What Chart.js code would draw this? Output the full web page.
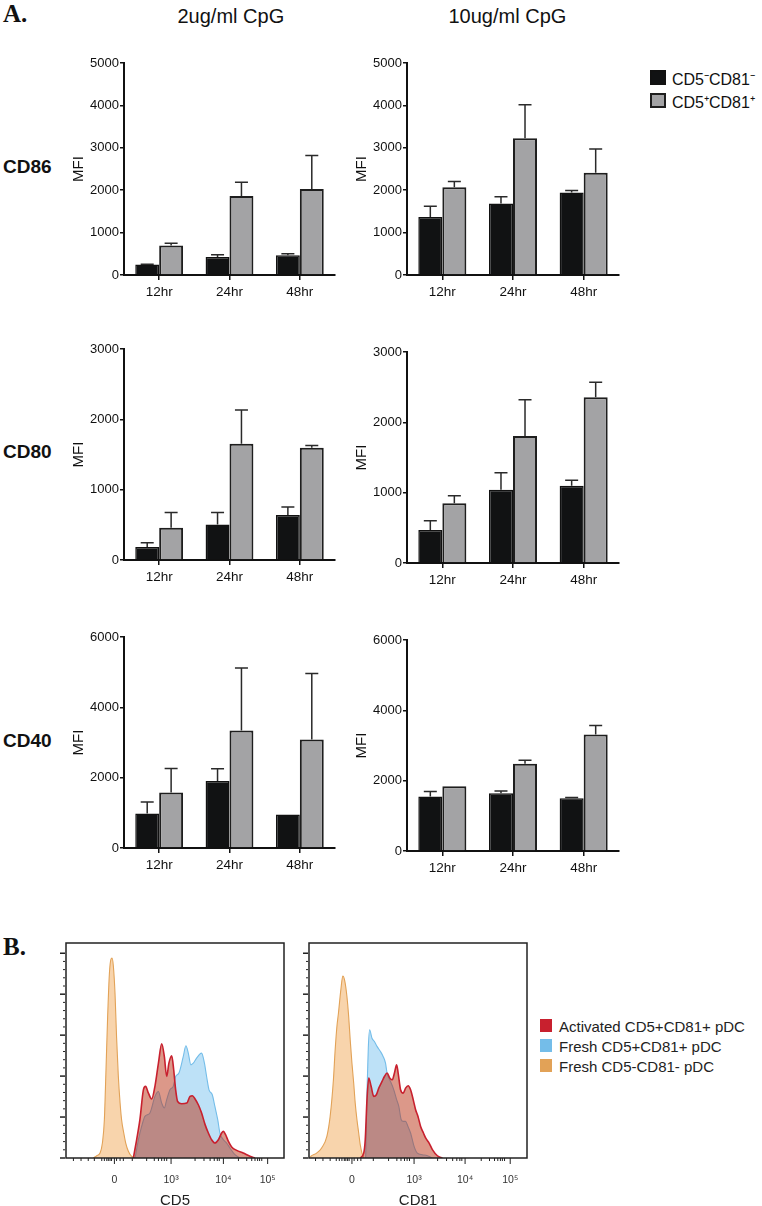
<!DOCTYPE html>
<html><head><meta charset="utf-8">
<script src="https://cdn.jsdelivr.net/npm/chart.js@4.4.1/dist/chart.umd.min.js"></script>
<style>
html,body{margin:0;padding:0;background:#fff;overflow:hidden;}
body{width:762px;height:1206px;position:relative;font-family:'Liberation Sans',Arial,sans-serif;color:#111;}
.abs{position:absolute;white-space:nowrap;line-height:1;}
.serif{font-family:'Liberation Serif','Times New Roman',serif;font-weight:bold;}
canvas{position:absolute;}
.sw{position:absolute;box-sizing:border-box;}
</style></head><body>
<div class="abs serif" style="left:3px;top:1px;font-size:25px;">A.</div>
<div class="abs serif" style="left:3px;top:934px;font-size:25px;">B.</div>
<div id="root"></div>
<script>
// ---------- DATA ----------
const categories = ['12hr', '24hr', '48hr'];
const seriesNames = ['CD5⁻CD81⁻', 'CD5⁺CD81⁺'];
const doseTitles = ['2ug/ml CpG', '10ug/ml CpG'];
const markerNames = ['CD86', 'CD80', 'CD40'];
const yMaxes = [5000, 3000, 6000];
const ySteps = [1000, 1000, 2000];

// CD86
const cd86LowNeg = [245, 425, 465];
const cd86LowNegErr = [8, 55, 39];
const cd86LowPos = [693, 1866, 2031];
const cd86LowPosErr = [55, 323, 788];
const cd86HighNeg = [1370, 1685, 1945];
const cd86HighNegErr = [252, 158, 47];
const cd86HighPos = [2071, 3228, 2409];
const cd86HighPosErr = [134, 788, 560];
// CD80
const cd80LowNeg = [185, 503, 641];
const cd80LowNegErr = [62, 171, 114];
const cd80LowPos = [460, 1652, 1595];
const cd80LowPosErr = [214, 479, 33];
const cd80HighNeg = [469, 1043, 1100];
const cd80HighNegErr = [133, 241, 75];
const cd80HighPos = [848, 1806, 2355];
const cd80HighPosErr = [109, 516, 214];
// CD40
const cd40LowNeg = [984, 1902, 956];
const cd40LowNegErr = [322, 350, 0];
const cd40LowPos = [1580, 3341, 3085];
const cd40LowPosErr = [682, 1779, 1874];
const cd40HighNeg = [1548, 1642, 1500];
const cd40HighNegErr = [142, 67, 19];
const cd40HighPos = [1842, 2478, 3313];
const cd40HighPosErr = [0, 104, 257];

// Histograms (x in display channel units 0-100, y in % of max)
const histLabels = ['Activated CD5+CD81+ pDC', 'Fresh CD5+CD81+ pDC', 'Fresh CD5-CD81- pDC'];
const histTickLabels = ['0', '10³', '10⁴', '10⁵'];
const cd5TickPos = [22.2, 48.2, 72.2, 92.5];
const cd81TickPos = [19.7, 48.2, 71.6, 92.3];
const cd5MinorPos = [3.4,6.9,10.2,13.0,16.4,17.6,18.7,19.4,20.2,20.9,23.2,24.8,26.3,30.4,37.0,40.5,42.4,43.9,45.1,46.2,59.2,63.3,66.1,68.0,69.4,70.3,79.1,82.9,85.2,86.7,87.9,88.8,89.8];
const cd81MinorPos = [3.0,6.4,9.7,12.5,13.9,15.1,16.2,16.9,17.7,18.4,20.7,22.3,23.8,29.5,36.5,40.3,42.2,43.8,45.0,46.1,59.0,63.1,65.9,67.8,69.2,70.1,79.0,82.8,85.1,86.6,87.8,88.7,89.7];
const histYMajor = [0, 20, 40, 60, 80, 100];

const cd5OrangeX = [12.5,14.1,15.6,16.7,17.6,18.3,19.1,19.9,20.6,21.1,21.7,22.5,23.2,24.0,24.8,25.5,26.5,27.4,28.6,30.1,31.7];
const cd5OrangeY = [0,1.1,2.4,7.3,18.7,41.5,69,90,97,97.6,94,80,59,40,27,18.7,12.2,7.3,3.3,0.8,0];
const cd5RedX = [30.9,32.4,33.9,35.5,36.5,37.8,39.3,40.8,42.4,43.9,45.1,46.2,47.2,48.5,49.4,50.3,51.2,53.1,55.4,56.9,58.0,59.2,60.7,62.2,63.8,65.3,66.8,68.3,69.9,71.4,72.2,73.2,74.5,76.0,78.3,81.3,84.4,86.7];
const cd5RedY = [0,8.9,18.7,33.3,35.0,31.7,28.8,35.0,46.3,55.8,49.6,39.8,46.3,49.9,43.1,33.3,27.6,26.5,26.8,30.1,30.4,28.8,26.0,22.0,16.3,12.2,8.9,7.3,8.9,12.2,13.0,11.4,8.1,5.4,3.7,2.4,0.8,0];
const cd5BlueX = [31.7,33.2,34.7,36.2,38.5,40.8,42.4,43.9,45.1,46.2,47.7,49.2,50.3,51.8,53.8,55.0,56.1,57.3,58.4,59.9,62.2,63.5,64.5,65.6,67.1,68.3,69.6,70.6,72.2,73.7,75.2,77.5,79.8];
const cd5BlueY = [0,8.9,15.4,20.3,22.0,30.1,32.5,26.8,24.4,28.5,33.3,35.0,39.8,41.5,49.6,54.8,51.2,45.5,46.3,48.8,51.2,46.3,39.8,33.3,30.9,25.2,18.7,12.2,8.9,7.3,4.9,1.6,0];

const cd81OrangeX = [0.5,1.2,3.5,5.8,8.2,9.7,11.2,12.0,12.8,13.5,14.6,15.5,16.3,17.4,18.2,18.9,19.7,20.5,21.2,22.0,22.8,23.5,24.3,25.1];
const cd81OrangeY = [0.5,1.1,2.4,4.9,10.6,20.3,38.2,52.8,64.2,70.7,82.1,88.9,87.0,78.9,69.1,57.7,46.3,36.6,26.8,18.7,12.2,6.5,2.4,0];
const cd81BlueX = [26.0,26.6,27.2,27.8,28.9,30.0,31.2,32.8,34.0,35.1,35.8,36.6,37.7,38.9,40.2,41.2,42.3,43.2,44.3,45.4,46.6,48.2,49.7,52.0,54.3,56.6];
const cd81BlueY = [0,32.5,53.7,62.6,58.5,56.9,54.5,52.0,49.6,46.3,41.5,39.0,36.6,33.3,28.5,25.2,18.7,17.9,17.9,15.4,12.2,5.7,2.4,1.6,1.1,0];
const cd81RedX = [23.5,25.1,25.8,26.6,27.4,28.5,29.7,30.9,32.0,33.5,34.6,35.8,37.1,38.2,39.2,40.2,40.9,42.0,43.2,44.3,45.5,46.6,47.8,48.9,50.0,51.2,52.5,53.5,55.1,56.6,58.9,61.2];
const cd81RedY = [0,2.4,8.9,28.5,39.0,35.0,30.1,30.9,34.1,37.4,39.8,41.5,39.0,38.2,41.5,45.5,41.5,33.3,31.7,34.1,35.3,33.3,28.5,23.6,20.3,15.4,12.2,9.8,7.3,4.1,1.1,0];

// ---------- STYLE / LAYOUT ----------
const FAMILY = "'Liberation Sans', Arial, sans-serif";
const barColors = ['#111213', '#a3a3a5'];
const barBorders = ['#111111', '#1e1e1e'];
const histLine = ['#c8202e', '#74bde9', '#e2a257'];
const histFill = ['rgba(185,50,20,0.5)', 'rgba(90,180,235,0.4)', 'rgba(240,160,70,0.45)'];

const root = document.getElementById('root');
function addDiv(html, style, cls) {
  const d = document.createElement('div');
  d.className = cls || 'abs';
  d.innerHTML = html;
  Object.assign(d.style, style);
  root.appendChild(d);
  return d;
}
function addCanvas(left, top, w, h) {
  const c = document.createElement('canvas');
  c.width = w; c.height = h;
  c.style.left = left + 'px'; c.style.top = top + 'px';
  c.style.width = w + 'px'; c.style.height = h + 'px';
  root.appendChild(c);
  return c;
}

// column titles
[[231, doseTitles[0]], [507.5, doseTitles[1]]].forEach(([cx, t]) => {
  const d = addDiv(t, {top: '6px', fontSize: '20px', left: '0px'});
  d.style.left = (cx - d.offsetWidth / 2) + 'px';
});
// row labels
[[157, markerNames[0]], [442, markerNames[1]], [731, markerNames[2]]].forEach(([t, txt]) => {
  addDiv(txt, {left: '3px', top: t + 'px', fontSize: '19px', fontWeight: 'bold'});
});
// top legend
seriesNames.forEach((name, i) => {
  const top = 70 + i * 23;
  addDiv('', {left: '650px', top: top + 'px', width: '16px', height: '15px', background: barColors[i],
    border: '2px solid ' + barBorders[i]}, 'sw');
  addDiv(name, {left: '672px', top: (top + 1.5) + 'px', fontSize: '16px'});
});
// histogram legend
histLabels.forEach((name, i) => {
  const top = 1019 + i * 20;
  addDiv('', {left: '540px', top: top + 'px', width: '12px', height: '13px', background: histLine[i]}, 'sw');
  addDiv(name, {left: '559px', top: top + 'px', fontSize: '15px', color: '#222'});
});

// ---------- PLUGINS ----------
const errorBarPlugin = {
  id: 'errorBars',
  afterDatasetsDraw(chart) {
    const ctx = chart.ctx, ys = chart.scales.y;
    chart.data.datasets.forEach((ds, i) => {
      const meta = chart.getDatasetMeta(i);
      meta.data.forEach((bar, j) => {
        const e = ds.errors[j];
        if (!e) return;
        const top = ys.getPixelForValue(ds.data[j] + e);
        ctx.save();
        ctx.strokeStyle = '#2a2a2a'; ctx.lineWidth = 1.5;
        ctx.beginPath();
        ctx.moveTo(bar.x, bar.y); ctx.lineTo(bar.x, top);
        ctx.moveTo(bar.x - 6.5, top); ctx.lineTo(bar.x + 6.5, top);
        ctx.stroke();
        ctx.restore();
      });
    });
  }
};

const histDecor = {
  id: 'histDecor',
  afterDraw(chart, args, opts) {
    const {ctx, chartArea: a, scales: {x, y}} = chart;
    ctx.save();
    ctx.strokeStyle = '#222';
    const line = (x1, y1, x2, y2) => { ctx.beginPath(); ctx.moveTo(x1, y1); ctx.lineTo(x2, y2); ctx.stroke(); };
    ctx.lineWidth = 1;
    opts.major.forEach(v => { const p = x.getPixelForValue(v); line(p, a.bottom, p, a.bottom + 6); });
    opts.minor.forEach(v => { const p = x.getPixelForValue(v); line(p, a.bottom, p, a.bottom + 3); });
    for (let v = 0; v <= 100; v += 4) {
      const p = y.getPixelForValue(v);
      ctx.lineWidth = histYMajor.includes(v) ? 1.5 : 1;
      line(a.left - (histYMajor.includes(v) ? 6 : 3), p, a.left - 1, p);
    }
    ctx.lineWidth = 1.5;
    ctx.strokeRect(a.left, a.top, a.right - a.left, a.bottom - a.top);
    ctx.restore();
  }
};

// ---------- BAR CHARTS ----------
const barPanels = [
  {left: 124, top: 63, w: 211, h: 212, row: 0, neg: cd86LowNeg, negErr: cd86LowNegErr, pos: cd86LowPos, posErr: cd86LowPosErr},
  {left: 407, top: 63, w: 212, h: 212, row: 0, neg: cd86HighNeg, negErr: cd86HighNegErr, pos: cd86HighPos, posErr: cd86HighPosErr},
  {left: 124, top: 349, w: 211, h: 211, row: 1, neg: cd80LowNeg, negErr: cd80LowNegErr, pos: cd80LowPos, posErr: cd80LowPosErr},
  {left: 407, top: 352, w: 212, h: 211, row: 1, neg: cd80HighNeg, negErr: cd80HighNegErr, pos: cd80HighPos, posErr: cd80HighPosErr},
  {left: 124, top: 637, w: 211, h: 211, row: 2, neg: cd40LowNeg, negErr: cd40LowNegErr, pos: cd40LowPos, posErr: cd40LowPosErr},
  {left: 407, top: 640, w: 212, h: 211, row: 2, neg: cd40HighNeg, negErr: cd40HighNegErr, pos: cd40HighPos, posErr: cd40HighPosErr},
];
const Y_W = 60, PAD_T = 12, PAD_R = 8, X_H = 40;
barPanels.forEach(p => {
  const c = addCanvas(p.left - Y_W, p.top - PAD_T, Y_W + p.w + PAD_R, PAD_T + p.h + X_H);
  new Chart(c, {
    type: 'bar',
    data: {
      labels: categories,
      datasets: [
        {label: seriesNames[0], data: p.neg, errors: p.negErr, backgroundColor: barColors[0], borderColor: barBorders[0], borderWidth: 1.5},
        {label: seriesNames[1], data: p.pos, errors: p.posErr, backgroundColor: barColors[1], borderColor: barBorders[1], borderWidth: 2}
      ]
    },
    options: {
      responsive: false, animation: false, devicePixelRatio: 1,
      layout: {padding: {top: PAD_T, right: PAD_R, left: 0, bottom: 0}},
      plugins: {legend: {display: false}, tooltip: {enabled: false}},
      datasets: {bar: {categoryPercentage: 0.68, barPercentage: 1}},
      scales: {
        x: {
          grid: {drawOnChartArea: false, offset: false, tickLength: 5, color: '#111', lineWidth: 1.5},
          border: {color: '#111', width: 2},
          ticks: {color: '#111', font: {size: 13.5, family: FAMILY}, padding: 4},
          afterFit(s) { s.height = X_H; }
        },
        y: {
          min: 0, max: yMaxes[p.row],
          ticks: {stepSize: ySteps[p.row], color: '#111', font: {size: 13, family: FAMILY}, padding: 1,
            callback: v => String(v)},
          grid: {drawOnChartArea: false, tickLength: 4, color: '#111', lineWidth: 1.5},
          border: {color: '#111', width: 2},
          title: {display: true, text: 'MFI', color: '#111', font: {size: 15, family: FAMILY}, padding: {top: 6, bottom: 0}},
          afterFit(s) { s.width = Y_W; }
        }
      }
    },
    plugins: [errorBarPlugin]
  });
});

// ---------- HISTOGRAMS ----------
const pts = (xs, ys) => xs.map((x, i) => ({x: x, y: ys[i]}));
const histPanels = [
  {left: 66, title: 'CD5', ticks: cd5TickPos, minor: cd5MinorPos,
   series: [pts(cd5RedX, cd5RedY), pts(cd5BlueX, cd5BlueY), pts(cd5OrangeX, cd5OrangeY)]},
  {left: 308.5, title: 'CD81', ticks: cd81TickPos, minor: cd81MinorPos,
   series: [pts(cd81RedX, cd81RedY), pts(cd81BlueX, cd81BlueY), pts(cd81OrangeX, cd81OrangeY)]},
];
const H_TOP = 943, H_H = 215, H_W = 218, H_PL = 12, H_PT = 5, H_PR = 6, H_XH = 52;
histPanels.forEach(p => {
  const c = addCanvas(Math.round(p.left) - H_PL, H_TOP - H_PT, H_PL + H_W + H_PR, H_PT + H_H + H_XH);
  new Chart(c, {
    type: 'line',
    data: {
      datasets: p.series.map((d, i) => ({
        label: histLabels[i], data: d, borderColor: histLine[i], backgroundColor: histFill[i],
        fill: 'origin', borderWidth: i === 0 ? 1.6 : 1.1, pointRadius: 0, cubicInterpolationMode: 'monotone'
      }))
    },
    options: {
      responsive: false, animation: false, devicePixelRatio: 1,
      layout: {padding: {left: H_PL, top: H_PT, right: H_PR, bottom: 0}},
      plugins: {legend: {display: false}, tooltip: {enabled: false},
        histDecor: {major: p.ticks, minor: p.minor}},
      scales: {
        x: {
          type: 'linear', min: 0, max: 100,
          grid: {display: false}, border: {display: false},
          afterBuildTicks(s) { s.ticks = p.ticks.map(v => ({value: v})); },
          ticks: {autoSkip: false, maxRotation: 0, color: '#333', font: {size: 10.5, family: FAMILY}, padding: 8,
            callback: (v, i) => histTickLabels[i]},
          title: {display: true, text: p.title, color: '#222', font: {size: 15, family: FAMILY}, padding: {top: 0, bottom: 0}},
          afterFit(s) { s.height = H_XH; }
        },
        y: {display: false, min: 0, max: 105}
      }
    },
    plugins: [histDecor]
  });
});
</script>
</body></html>
